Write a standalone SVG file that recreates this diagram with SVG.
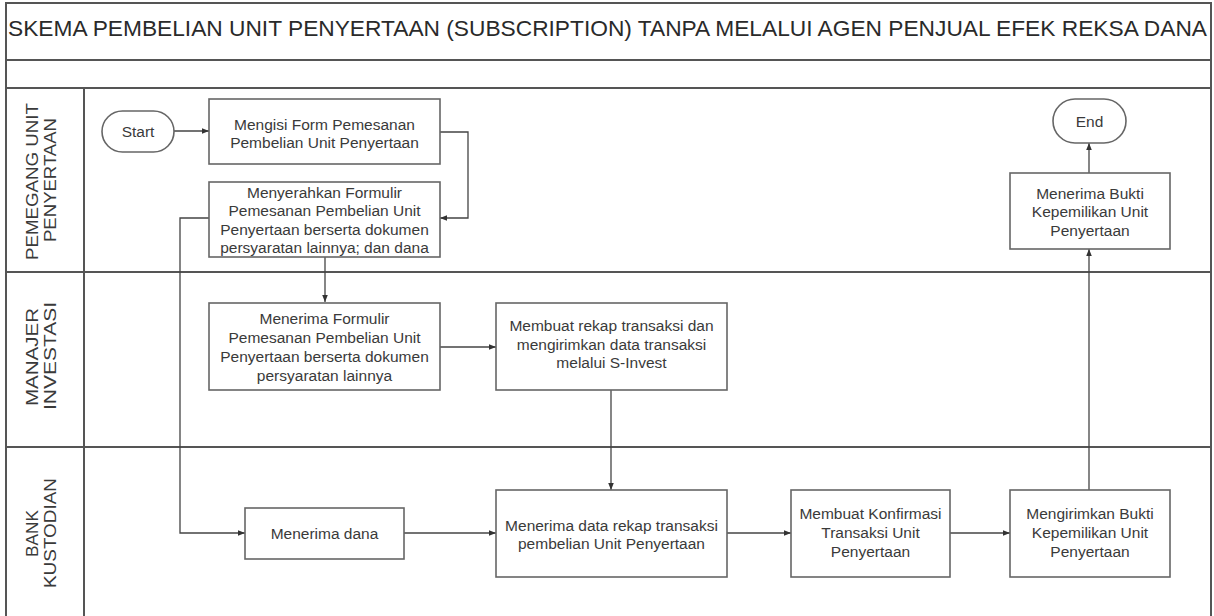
<svg xmlns="http://www.w3.org/2000/svg" width="1214" height="616" viewBox="0 0 1214 616">
<style>
  .frame{fill:none;stroke:#555;stroke-width:2}
  .sep{stroke:#555;stroke-width:2}
  .box{fill:#fff;stroke:#666;stroke-width:1.6}
  .t{font-family:"Liberation Sans",Arial,sans-serif;font-size:15.5px;fill:#3a3a3a;text-anchor:middle}
  .lane{font-family:"Liberation Sans",Arial,sans-serif;font-size:16px;fill:#3a3a3a}
  .title{font-family:"Liberation Sans",Arial,sans-serif;font-size:22px;fill:#2a2a2a}
  .c{fill:none;stroke:#444;stroke-width:1.3;marker-end:url(#arr)}
</style>
<defs>
  <marker id="arr" viewBox="0 0 10 10" refX="10" refY="5" markerWidth="7" markerHeight="7" markerUnits="userSpaceOnUse" orient="auto">
    <path d="M0,1 L10,5 L0,9 z" fill="#333"/>
  </marker>
</defs>
<rect width="1214" height="616" fill="#fff"/>
<g id="pool">
  <rect class="frame" x="6" y="3" width="1205" height="640"/>
  <line class="sep" x1="6" y1="60" x2="1211" y2="60"/>
  <line class="sep" x1="6" y1="88" x2="1211" y2="88"/>
  <line class="sep" x1="6" y1="272" x2="1211" y2="272"/>
  <line class="sep" x1="6" y1="447" x2="1211" y2="447"/>
  <line class="sep" x1="84" y1="88" x2="84" y2="616"/>
  <text class="title" x="8" y="36" textLength="1199" lengthAdjust="spacingAndGlyphs">SKEMA PEMBELIAN UNIT PENYERTAAN (SUBSCRIPTION) TANPA MELALUI AGEN PENJUAL EFEK REKSA DANA</text>
</g>
<g id="lane-pemegang">
  <text class="lane" transform="translate(38,181.5) rotate(-90)" x="-78.5" y="0" textLength="157" lengthAdjust="spacingAndGlyphs">PEMEGANG UNIT</text>
  <text class="lane" transform="translate(56,180) rotate(-90)" x="-62" y="0" textLength="124" lengthAdjust="spacingAndGlyphs">PENYERTAAN</text>
</g>
<g id="lane-manajer">
  <text class="lane" transform="translate(38,357) rotate(-90)" x="-49" y="0" textLength="98" lengthAdjust="spacingAndGlyphs">MANAJER</text>
  <text class="lane" transform="translate(56,356) rotate(-90)" x="-54" y="0" textLength="108" lengthAdjust="spacingAndGlyphs">INVESTASI</text>
</g>
<g id="lane-bank">
  <text class="lane" transform="translate(38,533.5) rotate(-90)" x="-23.5" y="0" textLength="47" lengthAdjust="spacingAndGlyphs">BANK</text>
  <text class="lane" transform="translate(56,533) rotate(-90)" x="-55" y="0" textLength="110" lengthAdjust="spacingAndGlyphs">KUSTODIAN</text>
</g>
<g id="connectors">
  <path class="c" d="M174,131 L209,131"/>
  <path class="c" d="M440,132 L468,132 L468,218 L440,218"/>
  <path class="c" d="M325,257 L325,302"/>
  <path class="c" d="M209,218 L180,218 L180,533 L245,533"/>
  <path class="c" d="M440,347 L496,347"/>
  <path class="c" d="M611,390 L611,490"/>
  <path class="c" d="M404,533 L496,533"/>
  <path class="c" d="M727,533 L791,533"/>
  <path class="c" d="M950,533 L1010,533"/>
  <path class="c" d="M1089,490 L1089,249"/>
  <path class="c" d="M1089,173 L1089,143"/>
</g>
<g id="start">
  <rect class="box" x="102" y="111" width="72" height="41" rx="20.5"/>
  <text class="t" x="138" y="137">Start</text>
</g>
<g id="end">
  <rect class="box" x="1053" y="99" width="73" height="44" rx="22"/>
  <text class="t" x="1089.5" y="126.5">End</text>
</g>
<g id="n-mengisi">
  <rect class="box" x="209" y="99" width="231" height="65"/>
  <text class="t" x="324.5" y="129.5">Mengisi Form Pemesanan<tspan x="324.5" dy="18">Pembelian Unit Penyertaan</tspan></text>
</g>
<g id="n-menyerahkan">
  <rect class="box" x="209" y="182" width="231" height="75"/>
  <text class="t" x="324.5" y="197.5">Menyerahkan Formulir<tspan x="324.5" dy="18.5">Pemesanan Pembelian Unit</tspan><tspan x="324.5" dy="18.5">Penyertaan berserta dokumen</tspan><tspan x="324.5" dy="18.5">persyaratan lainnya; dan dana</tspan></text>
</g>
<g id="n-menerima-formulir">
  <rect class="box" x="209" y="303" width="231" height="87"/>
  <text class="t" x="324.5" y="324">Menerima Formulir<tspan x="324.5" dy="19">Pemesanan Pembelian Unit</tspan><tspan x="324.5" dy="19">Penyertaan berserta dokumen</tspan><tspan x="324.5" dy="19">persyaratan lainnya</tspan></text>
</g>
<g id="n-rekap">
  <rect class="box" x="496" y="303" width="231" height="87"/>
  <text class="t" x="611.5" y="331">Membuat rekap transaksi dan<tspan x="611.5" dy="18.5">mengirimkan data transaksi</tspan><tspan x="611.5" dy="18.5">melalui S-Invest</tspan></text>
</g>
<g id="n-menerima-dana">
  <rect class="box" x="245" y="508" width="159" height="51"/>
  <text class="t" x="324.5" y="539">Menerima dana</text>
</g>
<g id="n-menerima-rekap">
  <rect class="box" x="496" y="490" width="231" height="87"/>
  <text class="t" x="611.5" y="530.5">Menerima data rekap transaksi<tspan x="611.5" dy="18.5">pembelian Unit Penyertaan</tspan></text>
</g>
<g id="n-konfirmasi">
  <rect class="box" x="791" y="490" width="159" height="87"/>
  <text class="t" x="870.5" y="519">Membuat Konfirmasi<tspan x="870.5" dy="19">Transaksi Unit</tspan><tspan x="870.5" dy="19">Penyertaan</tspan></text>
</g>
<g id="n-mengirimkan">
  <rect class="box" x="1010" y="490" width="160" height="87"/>
  <text class="t" x="1090" y="519">Mengirimkan Bukti<tspan x="1090" dy="19">Kepemilikan Unit</tspan><tspan x="1090" dy="19">Penyertaan</tspan></text>
</g>
<g id="n-menerima-bukti">
  <rect class="box" x="1010" y="173" width="160" height="76"/>
  <text class="t" x="1090" y="198.5">Menerima Bukti<tspan x="1090" dy="18.5">Kepemilikan Unit</tspan><tspan x="1090" dy="18.5">Penyertaan</tspan></text>
</g>
</svg>
